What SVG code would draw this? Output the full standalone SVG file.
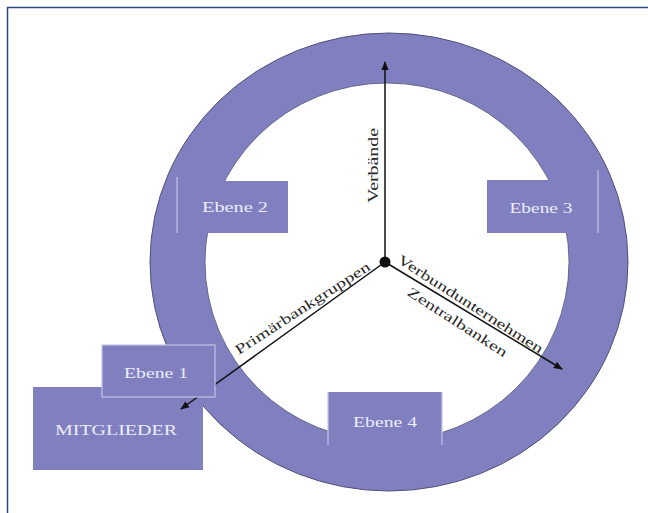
<svg xmlns="http://www.w3.org/2000/svg" width="648" height="513" viewBox="0 0 648 513">
<style>
.box{fill:#8080c0;stroke:#c4c4e6;stroke-width:1.2}
.boxf{fill:#8080c0}
.side{stroke:#c4c4e6;stroke-width:1.2;fill:none}
.lbl{font-family:"Liberation Serif","Times New Roman",serif;font-size:14px;fill:#ececfa;text-anchor:middle}
.axl{font-family:"Liberation Serif","Times New Roman",serif;font-size:14px;fill:#2a2a2a;text-anchor:middle}
.con{stroke:#111;stroke-width:1.5;fill:none;marker-end:url(#ah)}
</style>
<defs>
<marker id="ah" viewBox="0 0 10 10" refX="9" refY="5" markerWidth="6" markerHeight="6" orient="auto" markerUnits="strokeWidth">
<path d="M0,1 L10,5 L0,9 Z" fill="#111"/>
</marker>
</defs>
<rect x="0" y="0" width="648" height="513" fill="#fff"/>
<path d="M7.5,520 V7.5 H660" fill="none" stroke="#2a4a7a" stroke-width="1.5"/>
<g id="ring">
<ellipse cx="389" cy="262" rx="239" ry="229" fill="#8080c0" stroke="#50507a" stroke-width="1"/>
<ellipse cx="387" cy="262" rx="182" ry="179" fill="#fff" stroke="#50507a" stroke-width="0.8"/>
</g>
<g id="mitglieder">
<rect x="33" y="387" width="170" height="83" fill="#8080c0"/>
<text class="lbl" x="116" y="435" textLength="122" lengthAdjust="spacingAndGlyphs">MITGLIEDER</text>
</g>
<g id="connectors">
<line class="con" x1="385" y1="262" x2="385" y2="62"/>
<line class="con" x1="385" y1="262" x2="562" y2="369"/>
<line class="con" x1="385" y1="262" x2="181" y2="409"/>
</g>
<g id="ebene1">
<rect class="box" x="102" y="345" width="113" height="52"/>
<text class="lbl" x="156" y="378" textLength="64" lengthAdjust="spacingAndGlyphs">Ebene 1</text>
</g>
<g id="ebene2">
<rect class="boxf" x="177" y="181" width="111" height="52"/>
<path class="side" d="M177,177 V233"/>
<text class="lbl" x="235" y="212" textLength="66" lengthAdjust="spacingAndGlyphs">Ebene 2</text>
</g>
<g id="ebene3">
<rect class="boxf" x="487" y="180" width="111" height="53"/>
<path class="side" d="M598,170 V233"/>
<text class="lbl" x="541" y="213" textLength="63" lengthAdjust="spacingAndGlyphs">Ebene 3</text>
</g>
<g id="ebene4">
<rect class="boxf" x="328" y="392" width="114" height="53"/>
<path class="side" d="M328,392 V445 M442,392 V445"/>
<text class="lbl" x="385" y="427" textLength="64" lengthAdjust="spacingAndGlyphs">Ebene 4</text>
</g>
<g id="labels">
<text class="axl" transform="translate(378,165.5) rotate(-90)" textLength="75" lengthAdjust="spacingAndGlyphs">Verbände</text>
<text class="axl" transform="translate(305,312) rotate(-33)" textLength="158" lengthAdjust="spacingAndGlyphs">Primärbankgruppen</text>
<text class="axl" transform="translate(468,308) rotate(32.7)" textLength="170" lengthAdjust="spacingAndGlyphs">Verbundunternehmen</text>
<text class="axl" transform="translate(455,326) rotate(33)" textLength="116" lengthAdjust="spacingAndGlyphs">Zentralbanken</text>
</g>
<g id="hub">
<circle cx="385" cy="262" r="5.5" fill="#111"/>
</g>
</svg>
